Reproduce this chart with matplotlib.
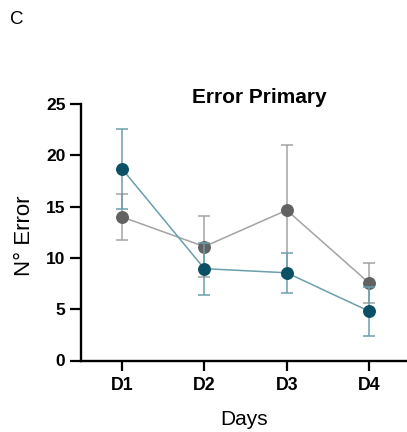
import matplotlib.pyplot as plt
import numpy as np

plt.rcParams['font.family'] = ['Liberation Sans', 'DejaVu Sans']

days = ["D1", "D2", "D3", "D4"]

# teal group
teal_mean = [18.7, 8.95, 8.55, 4.8]
teal_err = [3.9, 2.55, 1.95, 2.4]

# gray group
gray_mean = [14.0, 11.1, 14.65, 7.55]
gray_err = [2.25, 3.0, 6.4, 1.95]

x = np.arange(1, len(days) + 1)

fig = plt.figure(figsize=(4.07, 4.32), dpi=100)
ax = fig.add_axes([80.7 / 407, 71.5 / 432, 328 / 407, 256.5 / 432])

ax.errorbar(x, gray_mean, yerr=gray_err, color='#a3a3a3', linewidth=1.1,
            elinewidth=1.1, capsize=4.3, capthick=1.1, zorder=2)
ax.plot(x, gray_mean, 'o', color='#626262', markersize=8.3, zorder=3)

ax.errorbar(x, teal_mean, yerr=teal_err, color='#6a9fac', linewidth=1.1,
            elinewidth=1.1, capsize=4.3, capthick=1.1, zorder=4)
ax.plot(x, teal_mean, 'o', color='#0b5064', markersize=8.3, zorder=5)

ax.set_xlim(0.5, 4.48)
ax.set_ylim(0, 25)
ax.set_yticks(np.arange(0, 26, 5))
ax.set_xticks(x)
ax.set_xticklabels(days)

for s in ['top', 'right']:
    ax.spines[s].set_visible(False)
for s in ['left', 'bottom']:
    ax.spines[s].set_linewidth(1.7)

ax.tick_params(axis='y', length=8, width=1.6, labelsize=12.5, pad=3)
ax.tick_params(axis='x', length=7.5, width=1.6, labelsize=12.8, pad=4.5)
for lab in ax.get_xticklabels() + ax.get_yticklabels():
    lab.set_fontweight('bold')

fig.text(25 / 407, 1 - 236 / 432, "N° Error", fontsize=16, rotation=90,
         ha='center', va='center')
fig.text(244 / 407, 1 - 425 / 432, "Days", fontsize=15, ha='center',
         va='baseline')
fig.text(259.7 / 407, 1 - 102.7 / 432, "Error Primary", fontsize=15,
         fontweight='bold', ha='center', va='baseline')
fig.text(10 / 407, 1 - 19.5 / 432, "C", fontsize=13.5, ha='left', va='center')

fig.savefig("out.png", dpi=100)
